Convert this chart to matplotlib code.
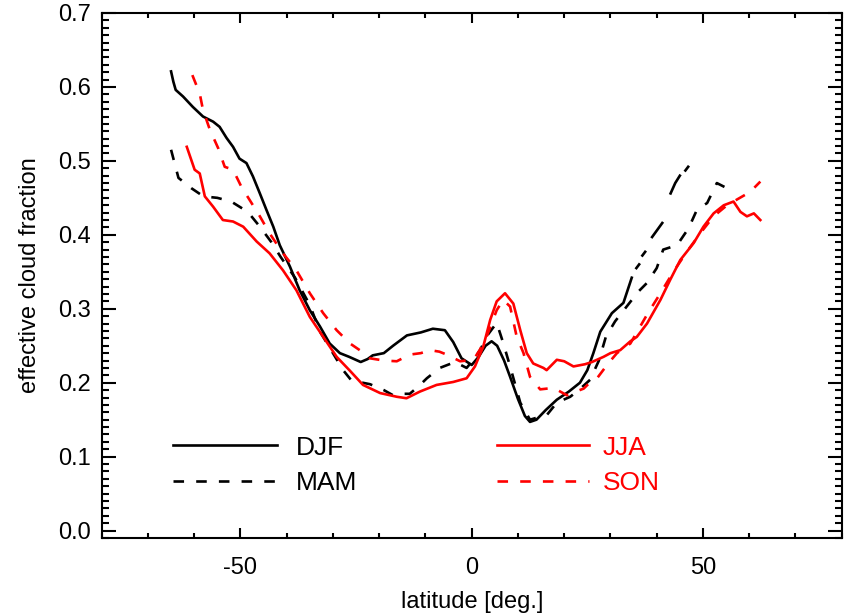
import numpy as np
import matplotlib
matplotlib.use("Agg")
import matplotlib.pyplot as plt
from matplotlib.ticker import MultipleLocator, FormatStrFormatter

plt.rcParams['font.family'] = ['Liberation Sans', 'DejaVu Sans']
plt.rcParams['axes.unicode_minus'] = False

nan = np.nan

# DJF (black solid) -- gaps are missing data
djf_lat = [-65, -64.5, -64, -62.4, -60.3, -58.1, -55.9, -54.5, -53, -51.6, -50.2, -48.7, -47.3,
           -45.8, -44.4, -42.9, -41.5, -39.3, -37.2, -35, -32.8, -30.7, -28.5, -26.5, -24,
           -22.5, -21.4, -19, -17, -14, -11, -8.4, -5.8, -4, -2.2, 0, 1.5, 3, 4.3, 5.5, 7,
           8.3, 10, 11.5, 12.6, 14, 16, 18.4, 21, 23.4, 25, 26.3, 27.8, 30.3, 32.8, 34.6,
           35.0, 35.6, 36.2, 36.5, 36.9, 37.5, 38.2, 39, 41.2, 42.1, 43, 44, 45, 45.6, 46.2, 46.8]
djf_val = [0.621, 0.607, 0.596, 0.587, 0.573, 0.56, 0.553, 0.546, 0.531, 0.519, 0.503, 0.497, 0.479,
           0.456, 0.434, 0.411, 0.386, 0.357, 0.325, 0.298, 0.276, 0.253, 0.24, 0.235, 0.228,
           0.232, 0.237, 0.24, 0.25, 0.264, 0.268, 0.273, 0.271, 0.255, 0.233, 0.224, 0.235,
           0.25, 0.256, 0.25, 0.23, 0.208, 0.178, 0.155, 0.147, 0.15, 0.163, 0.177, 0.188,
           0.2, 0.217, 0.24, 0.269, 0.294, 0.308, 0.342,
           nan, 0.355, 0.36, nan, 0.372, 0.377, nan, 0.397, 0.416, nan, 0.456, 0.47, 0.48,
           nan, 0.487, 0.492]

# MAM (black dashed)
mam_lat = [-65, -63.4, -60.6, -58, -55, -52, -48.4, -45.8, -43.3, -41.3, -38.2, -35, -32.8,
           -30, -27.8, -26, -22, -19, -17, -15, -13.4, -11.5, -9.7, -6.9, -3.6, -1.1, 0.5,
           1.8, 3.5, 5.4, 6.8, 8.3, 10.5, 12.6, 14.8, 16.2, 18.4, 21.3, 23.5, 25.6, 27.5,
           29, 31, 33.5, 36, 37.9, 40, 41.4, 44.4, 46.9, 48.7, 50.9, 53, 55.2]
mam_val = [0.515, 0.477, 0.463, 0.452, 0.45, 0.445, 0.431, 0.411, 0.39, 0.37, 0.342, 0.305,
           0.269, 0.24, 0.217, 0.203, 0.198, 0.19, 0.183, 0.185, 0.185, 0.195, 0.206, 0.22,
           0.228, 0.22, 0.232, 0.244, 0.265, 0.281, 0.254, 0.222, 0.173, 0.15, 0.154, 0.156,
           0.173, 0.181, 0.192, 0.204, 0.23, 0.262, 0.283, 0.303, 0.323, 0.335, 0.355, 0.38,
           0.386, 0.409, 0.434, 0.443, 0.47, 0.463]

# JJA (red solid)
jja_lat = [-61.6, -59.9, -58.8, -57.7, -55.9, -53.8, -51.6, -49.4, -46.5, -43.7, -40.8,
           -37.9, -35, -32.1, -29.2, -26.3, -23.5, -19.8, -16.2, -14.1, -11.2, -7.6, -4,
           -1.1, 0.7, 2.5, 4, 5.4, 7.2, 9, 10.5, 11.9, 13.3, 15.5, 16.2, 18.4, 20, 22, 24.5,
           26, 28.5, 30, 32.1, 34.3, 35.7, 37.9, 40.8, 42.9, 45.1, 48, 50.1, 52.3, 54.5,
           56.6, 58.1, 59.5, 61, 62.4]
jja_val = [0.519, 0.488, 0.483, 0.452, 0.438, 0.42, 0.418, 0.411, 0.391, 0.375, 0.352,
           0.325, 0.289, 0.262, 0.235, 0.216, 0.197, 0.186, 0.181, 0.179, 0.188, 0.197, 0.201,
           0.206, 0.222, 0.249, 0.285, 0.31, 0.321, 0.307, 0.271, 0.24, 0.226, 0.22, 0.217,
           0.231, 0.229, 0.222, 0.225, 0.228, 0.235, 0.24, 0.244, 0.256, 0.262, 0.28, 0.312,
           0.339, 0.366, 0.389, 0.411, 0.429, 0.44, 0.445, 0.431, 0.425, 0.429, 0.42]

# SON (red dashed)
son_lat = [-60.4, -58.8, -58.1, -56.6, -54.8, -53.4, -51.6, -49.8, -48, -45.8, -43.7, -40.8,
           -37.9, -35, -32.1, -29.2, -26.3, -24.2, -22, -19, -16.2, -13.4, -11, -9, -7, -5.4,
           -2.5, 0.4, 1.8, 3.2, 5.4, 6.8, 8.3, 9.7, 11.2, 12.6, 14.8, 17.7, 20.6, 22.5, 24.2,
           25.5, 27.1, 29.5, 31.4, 34.3, 37.9, 40.8, 43.6, 46.5, 49.4, 52.3, 55.2, 57.7,
           60.2, 62.4]
son_val = [0.616, 0.591, 0.569, 0.542, 0.517, 0.492, 0.488, 0.465, 0.447, 0.425, 0.402,
           0.375, 0.352, 0.321, 0.294, 0.271, 0.253, 0.244, 0.233, 0.23, 0.229, 0.238, 0.24,
           0.244, 0.242, 0.238, 0.229, 0.231, 0.245, 0.262, 0.298, 0.312, 0.303, 0.263, 0.24,
           0.208, 0.191, 0.193, 0.183, 0.188, 0.192, 0.2, 0.206, 0.226, 0.24, 0.253, 0.292,
           0.321, 0.35, 0.377, 0.402, 0.425, 0.44, 0.449, 0.458, 0.472]

series = [
    ("DJF", djf_lat, djf_val, "black", "-"),
    ("MAM", mam_lat, mam_val, "black", "--"),
    ("JJA", jja_lat, jja_val, "red", "-"),
    ("SON", son_lat, son_val, "red", "--"),
]

fig = plt.figure(figsize=(8.53, 6.15), dpi=100)
ax = fig.add_axes([0.1192, 0.1252, 0.8676, 0.8537])

handles = {}
for name, lat, val, color, ls in series:
    line, = ax.plot(lat, val, color=color, lw=1.9, label=name)
    if ls == "--":
        line.set_dashes((4, 4.6))
    handles[name] = line

ax.set_xlim(-80, 80)
ax.set_ylim(-0.01, 0.70)
ax.xaxis.set_major_locator(MultipleLocator(50))
ax.xaxis.set_minor_locator(MultipleLocator(10))
ax.yaxis.set_major_locator(MultipleLocator(0.1))
ax.yaxis.set_minor_locator(MultipleLocator(0.01))
ax.yaxis.set_major_formatter(FormatStrFormatter("%.1f"))

ax.tick_params(which="both", direction="in", top=True, right=True, width=1.5,
               labelsize=17)
ax.tick_params(axis="x", which="major", length=7, pad=14)
ax.tick_params(axis="x", which="minor", length=3.6)
ax.tick_params(axis="y", which="major", length=10, pad=8)
ax.tick_params(axis="y", which="minor", length=5)
for s in ax.spines.values():
    s.set_linewidth(1.5)

ax.set_xlabel("latitude [deg.]", fontsize=17, labelpad=8)
ax.set_ylabel("effective cloud fraction", fontsize=17, labelpad=12)

# legends: black seasons on the left, red seasons on the right
leg_opts = dict(frameon=False, fontsize=19, loc="upper left", borderaxespad=0,
                borderpad=0, labelspacing=0.45)
leg1 = ax.legend(handles=[handles["DJF"], handles["MAM"]], bbox_to_anchor=(0.096, 0.195),
                 handlelength=3.97, handletextpad=0.68, **leg_opts)
ax.add_artist(leg1)
leg2 = ax.legend(handles=[handles["JJA"], handles["SON"]], bbox_to_anchor=(0.534, 0.195),
                 handlelength=3.5, handletextpad=0.5, **leg_opts)
for txt in leg2.get_texts():
    txt.set_color("red")

fig.savefig("out.png", dpi=100)
